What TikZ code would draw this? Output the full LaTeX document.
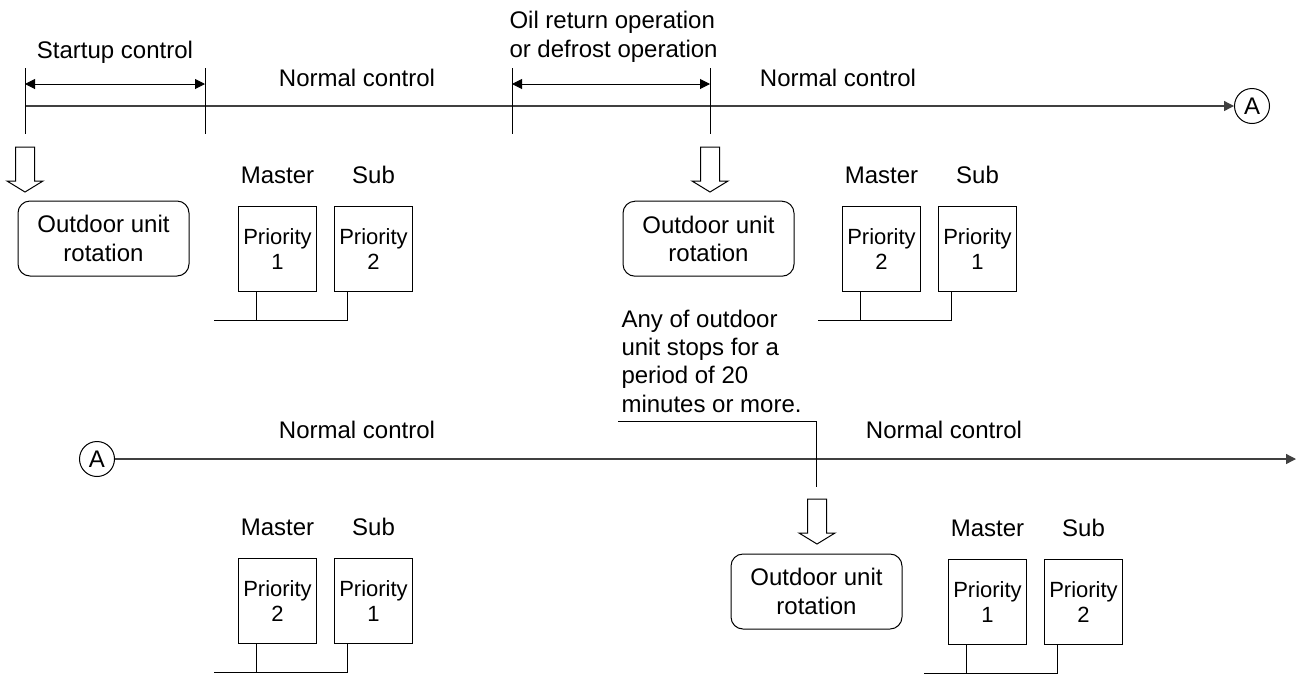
\documentclass[tikz,border=0pt]{standalone}
\usepackage{fontspec}
\setmainfont{Liberation Sans}
\usetikzlibrary{arrows.meta}

\tikzset{pics/dnarrow/.style={code={
    \draw (-9.5,0) -- (-9.5,34) -- (-18,34) -- (0,45) -- (18,34) -- (9.5,34) -- (9.5,0) -- cycle;
}}}

\begin{document}
\begin{tikzpicture}[x=1pt,y=-1pt, line width=1pt,
    font=\fontsize{24}{28.3}\selectfont,
    txt/.style={inner sep=0pt, anchor=base},
    prio/.style={draw, inner sep=0pt, minimum width=78pt, minimum height=85pt,
        align=center, anchor=north west, font=\fontsize{22}{25.6}\selectfont},
    rotbox/.style={draw, rounded corners=12pt, inner sep=0pt, minimum width=171pt,
        minimum height=75pt, align=center},
    timeline/.style={draw=black!75, line width=1.3pt},
    onward/.style={-{Triangle[length=10pt,width=10pt]}},
    dimline/.style={{Triangle[length=10pt,width=10pt]}-{Triangle[length=10pt,width=10pt]}},
    conn/.style={draw, circle, inner sep=0pt, minimum size=35pt}]

    \useasboundingbox (0,0) rectangle (1298,673);

    % first line of the time chart
    \coordinate (t1) at (25,106);
    \coordinate (t2) at (205,106);
    \coordinate (t3) at (512,106);
    \coordinate (t4) at (710,106);
    \node[conn] (A1) at (1252,106) {A};
    \draw[timeline, onward] (t1) -- (A1);
    \foreach \t in {t1,t2,t3,t4}
        \draw ([yshift=38pt]\t) -- ([yshift=-28pt]\t);
    \draw[dimline] ([yshift=22pt]t1) -- ([yshift=22pt]t2);
    \draw[dimline] ([yshift=22pt]t3) -- ([yshift=22pt]t4);

    \node[txt] (startup) at (115,58) {Startup control};
    \node[txt] (norm1) at (357,86) {Normal control};
    % base of a multi-line node sits on its last line
    \node[txt, anchor=base west, align=left] (oilret) at (509,57)
        {Oil return operation\\or defrost operation};
    \node[txt] (norm2) at (838,86) {Normal control};

    % second line
    \node[conn] (A2) at (97,459) {A};
    \coordinate (tend) at (1296,459);
    \coordinate (t5) at (816,459);
    \draw[timeline, onward] (A2) -- (tend);
    \node[txt] (norm3) at (357,438) {Normal control};
    \node[txt] (norm4) at (944,438) {Normal control};

    \node[txt, anchor=base west, align=left] (stopnote) at (621,412)
        {Any of outdoor\\unit stops for a\\period of 20\\minutes or more.};
    \draw ([shift={(-3pt,-9pt)}]stopnote.south west) -| ([yshift=-28pt]t5);

    % rotation events
    \pic (dn1) at (25,147) {dnarrow};
    \pic (dn2) at (710,147) {dnarrow};
    \pic (dn3) at (817,499) {dnarrow};
    \node[rotbox] (rot1) at (103.5,238.5) {Outdoor unit\\rotation};
    \node[rotbox] (rot2) at (708.5,238.7) {Outdoor unit\\rotation};
    \node[rotbox] (rot3) at (816.5,591.5) {Outdoor unit\\rotation};

    % master / sub units with their priority
    \foreach \gx/\gy/\pa/\pb [count=\i] in {238/206/1/2, 842/206/2/1, 238/558/2/1, 948/559/1/2} {
        \node[prio] (m\i) at (\gx,\gy) {Priority\\\pa};
        \node[prio] (s\i) at (\gx+96,\gy) {Priority\\\pb};
        \node[txt] (mlab\i) at ([yshift=23pt]m\i.north) {Master};
        \node[txt] (slab\i) at ([yshift=23pt]s\i.north) {Sub};
        \draw ([xshift=18pt]m\i.south west) -- ++(0,28);
        \draw ([xshift=13pt]s\i.south west) |- ([shift={(-24pt,-28pt)}]m\i.south west);
    }

\end{tikzpicture}
\end{document}
